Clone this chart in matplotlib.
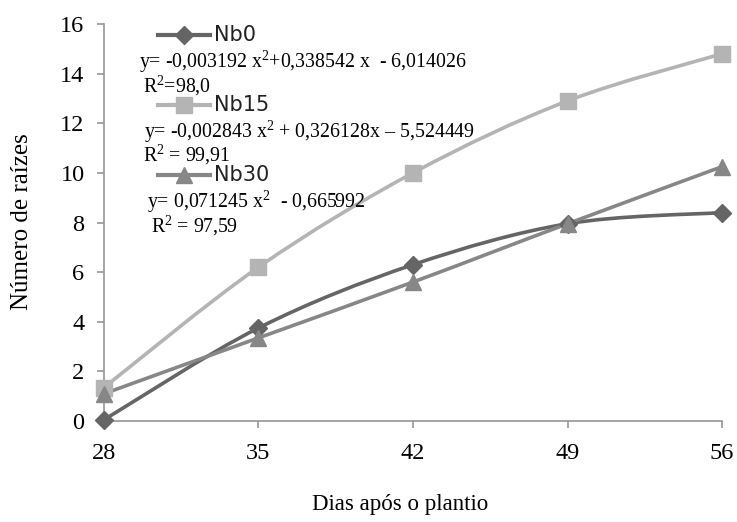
import matplotlib
matplotlib.use("Agg")
import matplotlib.pyplot as plt
from matplotlib.lines import Line2D
from matplotlib.path import Path
from matplotlib.patches import PathPatch
import numpy as np

# dias apos o plantio
dias = [28, 35, 42, 49, 56]

# numero de raizes por tratamento
nb0 = [0.05, 3.75, 6.3, 7.95, 8.4]
nb15 = [1.35, 6.2, 10.0, 12.9, 14.8]
nb30 = [1.1, 3.35, 5.6, 7.95, 10.25]

nomes = ['Nb0', 'Nb15', 'Nb30']
equacoes = ['y= -0,003192 x$^2$+0,338542 x  - 6,014026',
            'y= -0,002843 x$^2$ + 0,326128x \u2013 5,524449',
            'y= 0,071245 x$^2$  - 0,665992']
r2 = ['R$^2$=98,0', 'R$^2$ = 99,91', 'R$^2$ = 97,59']

cores = ['#656565', '#b4b4b4', '#878787']
marcadores = ['D', 's', '^']
tam_marc = [9.5, 12, 12]

W, H = 737, 522
serif = ['Liberation Serif', 'DejaVu Serif']
plt.rcParams['font.family'] = serif
plt.rcParams['mathtext.fontset'] = 'custom'
plt.rcParams['mathtext.rm'] = 'Liberation Serif'
plt.rcParams['mathtext.it'] = 'Liberation Serif'
plt.rcParams['mathtext.default'] = 'rm'


def fx(x):
    return x / W


def fy(y):
    return 1 - y / H


def curva_suave(x, y):
    # bezier segments through every point, like a spreadsheet smoothed line
    x = np.asarray(x, float)
    y = np.asarray(y, float)
    p = np.column_stack([x, y])
    verts = [p[0]]
    codes = [Path.MOVETO]
    n = len(p)
    for i in range(n - 1):
        p0 = p[i - 1] if i > 0 else p[i]
        p3 = p[i + 2] if i + 2 < n else p[i + 1]
        c1 = p[i] + (p[i + 1] - p0) / 6
        c2 = p[i + 1] - (p3 - p[i]) / 6
        verts += [c1, c2, p[i + 1]]
        codes += [Path.CURVE4] * 3
    return Path(verts, codes)


fig = plt.figure(figsize=(W / 100, H / 100), dpi=100)
ax = fig.add_axes([fx(104), fy(421), (722 - 104) / W, (421 - 24) / H])

for serie, cor, m, ms in zip([nb0, nb15, nb30], cores, marcadores, tam_marc):
    ax.add_patch(PathPatch(curva_suave(dias, serie), fill=False,
                           edgecolor=cor, lw=2.6, clip_on=False, zorder=2))
    ax.plot(dias, serie, linestyle='none', marker=m, ms=ms, color=cor,
            clip_on=False, zorder=3)

ax.set_xlim(28, 56)
ax.set_ylim(0, 16)
ax.set_xticks(dias)
ax.set_yticks(range(0, 17, 2))
for lado in ['top', 'right']:
    ax.spines[lado].set_visible(False)
for lado in ['left', 'bottom']:
    ax.spines[lado].set_color('#969696')
    ax.spines[lado].set_linewidth(1.2)
ax.tick_params(axis='both', direction='out', length=5, width=1.2,
               color='#969696', labelsize=17.5, pad=9)
ax.tick_params(axis='x', pad=11)
ax.set_xlabel('Dias após o plantio', fontsize=16.5)
ax.set_ylabel('Número de raízes', fontsize=18)
ax.xaxis.set_label_coords((400 - 104) / 618, -(494 - 421) / 397)
ax.yaxis.set_label_coords(-(104 - 33) / 618, (421 - 222) / 397)

# legenda com as equacoes de regressao
leg_y = [35, 105, 175]
eq_pos = [(139, 62), (144, 132), (147, 202)]
r2_pos = [(143, 86), (143, 155), (151, 226)]
for i in range(3):
    yy = fy(leg_y[i])
    fig.add_artist(Line2D([fx(158), fx(210)], [yy, yy], color=cores[i],
                          lw=3, transform=fig.transFigure))
    fig.add_artist(Line2D([fx(184)], [yy], color=cores[i], marker=marcadores[i],
                          ms=tam_marc[i], transform=fig.transFigure))
    fig.text(fx(214), yy, nomes[i], fontsize=15, family=['DejaVu Sans'],
             color='#222222', va='center', ha='left')
    fig.text(fx(eq_pos[i][0]), fy(eq_pos[i][1]), equacoes[i], fontsize=14.3,
             va='center', ha='left')
    fig.text(fx(r2_pos[i][0]), fy(r2_pos[i][1]), r2[i], fontsize=14.3,
             va='center', ha='left')

fig.savefig('out.png', dpi=100)
